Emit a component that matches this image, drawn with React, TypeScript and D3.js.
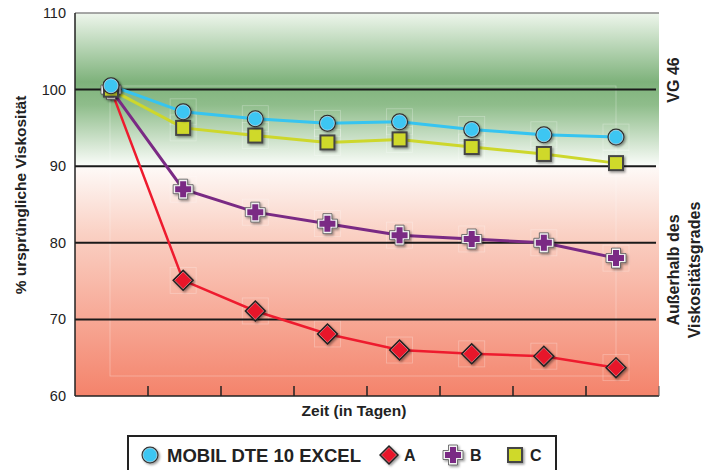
import React from "react";
import * as d3 from "d3";

const days = ["0", "1", "2", "3", "4", "5", "6", "7"];
const mobil = [100.5, 97.1, 96.2, 95.6, 95.8, 94.8, 94.1, 93.8];
const seriesA = [100, 75.1, 71.1, 68.1, 66.0, 65.5, 65.2, 63.7];
const seriesB = [100, 87.0, 84.0, 82.5, 81.0, 80.5, 80.0, 78.0];
const seriesC = [100, 95.0, 94.0, 93.1, 93.5, 92.5, 91.6, 90.4];
const yTicks = [60, 70, 80, 90, 100, 110];
const gridValues = [70, 80, 90, 100];

const W = 714, H = 470;
const L = 75, R = 659, T = 13, B = 396;
const FONT = "'Liberation Sans', Arial, Helvetica, sans-serif";

export default function App() {
  const y = d3.scaleLinear().domain([60, 110]).range([B, T]);
  const band = d3.scaleBand().domain(days).range([L, R]);
  const x = d3.scalePoint().domain(days).range([111, 616]);

  const line = (vals: number[]) =>
    d3.line<number>().x((_, i) => x(days[i])!).y((v) => y(v))(vals)!;

  const tickXs = days.slice(1).map((d) => band(d)!);

  const circle = (cx: number, cy: number, k: string) => (
    <g key={k} filter="url(#sh)">
      <circle cx={cx} cy={cy} r={8.5} fill="#2b2b2b" />
      <circle cx={cx} cy={cy} r={7} fill="#3cc6f2" stroke="#dff6ff" strokeWidth={0.6} />
    </g>
  );
  const diamond = (cx: number, cy: number, k: string, s = 11) => (
    <g key={k} filter="url(#sh)">
      <path d={`M${cx},${cy - s}L${cx + s},${cy}L${cx},${cy + s}L${cx - s},${cy}Z`} fill="#222" />
      <path d={`M${cx},${cy - s + 2.5}L${cx + s - 2.5},${cy}L${cx},${cy + s - 2.5}L${cx - s + 2.5},${cy}Z`} fill="#e8192c" stroke="#f3a0a6" strokeWidth={0.6} />
    </g>
  );
  const crossPath = (cx: number, cy: number, a: number, b: number) =>
    `M${cx - b},${cy - a}H${cx + b}V${cy - b}H${cx + a}V${cy + b}H${cx + b}V${cy + a}H${cx - b}V${cy + b}H${cx - a}V${cy - b}H${cx - b}Z`;
  const cross = (cx: number, cy: number, k: string) => (
    <g key={k} filter="url(#sh)">
      <path d={crossPath(cx, cy, 10, 4.5)} fill="#f2f2f2" stroke="#555" strokeWidth={0.8} />
      <path d={crossPath(cx, cy, 8, 3)} fill="#7a2a84" />
    </g>
  );
  const square = (cx: number, cy: number, k: string, s = 8) => (
    <g key={k} filter="url(#sh)">
      <rect x={cx - s} y={cy - s} width={2 * s} height={2 * s} fill="#444" />
      <rect x={cx - s + 2} y={cy - s + 2} width={2 * s - 4} height={2 * s - 4} fill="#cfd92c" />
    </g>
  );
  const box = (cx: number, cy: number, k: string) => (
    <rect key={k} x={cx - 13} y={cy - 13} width={26} height={26} fill="none" stroke="#fff" strokeOpacity={0.3} strokeWidth={0.8} />
  );

  const legendY = 455;
  const allSeries = [seriesA, seriesB, seriesC, mobil];

  return (
    <svg width={W} height={H} style={{ position: "absolute", left: 0, top: 0, fontFamily: FONT }}>
      <defs>
        <linearGradient id="gGreen" x1="0" y1={T} x2="0" y2={y(90)} gradientUnits="userSpaceOnUse">
          <stop offset="0" stopColor="#eef6ec" />
          <stop offset="0.45" stopColor="#7eb27b" />
          <stop offset="0.6" stopColor="#8fbd8b" />
          <stop offset="1" stopColor="#fbfdfa" />
        </linearGradient>
        <linearGradient id="gRed" x1="0" y1={y(90)} x2="0" y2={B} gradientUnits="userSpaceOnUse">
          <stop offset="0" stopColor="#fefaf8" />
          <stop offset="0.3" stopColor="#fad0c3" />
          <stop offset="1" stopColor="#f4836b" />
        </linearGradient>
        <filter id="sh" x="-50%" y="-50%" width="200%" height="200%">
          <feDropShadow dx="1.5" dy="1.5" stdDeviation="1.2" floodColor="#000" floodOpacity="0.4" />
        </filter>
      </defs>

      <rect x={L} y={T} width={R - L} height={y(90) - T} fill="url(#gGreen)" />
      <rect x={L} y={y(90)} width={R - L} height={B - y(90)} fill="url(#gRed)" />

      <rect x={110} y={86} width={506} height={290} fill="none" stroke="#fff" strokeOpacity={0.35} strokeWidth={0.8} />
      {allSeries.map((s, si) => s.slice(1).map((v, i) => box(x(days[i + 1])!, y(v), `bx${si}-${i}`)))}

      {gridValues.map((v) => (
        <line key={v} x1={L} x2={656} y1={y(v)} y2={y(v)} stroke="#1a1a1a" strokeWidth={2} />
      ))}
      <line x1={L} x2={R} y1={T} y2={T} stroke="#8a8a8a" strokeWidth={1.5} />
      <line x1={L} x2={L} y1={T} y2={B} stroke="#222" strokeWidth={1.5} />
      <line x1={L} x2={R} y1={B} y2={B} stroke="#222" strokeWidth={1.5} />
      <line x1={R} x2={R} y1={B - 10} y2={B} stroke="#555" strokeWidth={1} />
      {tickXs.map((tx) => (
        <line key={tx} x1={tx} x2={tx} y1={B - 10} y2={B} stroke="#222" strokeWidth={1.5} />
      ))}

      {yTicks.map((v) => (
        <text key={v} x={66} y={y(v) + 5} textAnchor="end" fontSize={14.5} fill="#222">{v}</text>
      ))}

      <text transform={`translate(26,${195}) rotate(-90)`} textAnchor="middle" fontSize={15.5} fontWeight="bold" fill="#222">
        % ursprüngliche Viskosität
      </text>
      <text x={354} y={416} textAnchor="middle" fontSize={15.5} fontWeight="bold" fill="#222">Zeit (in Tagen)</text>

      <text transform={`translate(679,80) rotate(-90)`} textAnchor="middle" fontSize={16} fontWeight="bold" fill="#222">VG 46</text>
      <text transform={`translate(679,270) rotate(-90)`} textAnchor="middle" fontSize={16} fontWeight="bold" fill="#222">Außerhalb des</text>
      <text transform={`translate(700,270) rotate(-90)`} textAnchor="middle" fontSize={16} fontWeight="bold" fill="#222">Viskositätsgrades</text>

      <path d={line(seriesA)} fill="none" stroke="#ee1b2e" strokeWidth={2.5} />
      <path d={line(seriesB)} fill="none" stroke="#7a2a84" strokeWidth={3} />
      <path d={line(seriesC)} fill="none" stroke="#cdd72c" strokeWidth={3} />
      <path d={line(mobil)} fill="none" stroke="#36c4f0" strokeWidth={3} />

      {seriesA.map((v, i) => diamond(x(days[i])!, y(v), "a" + i))}
      {seriesB.map((v, i) => cross(x(days[i])!, y(v), "b" + i))}
      {seriesC.map((v, i) => square(x(days[i])!, y(v), "c" + i))}
      {mobil.map((v, i) => circle(x(days[i])!, y(v), "m" + i))}

      <rect x={128} y={436} width={428} height={40} fill="#fff" stroke="#222" strokeWidth={2} />
      {circle(150, legendY, "lm")}
      <text x={167} y={legendY + 6.5} fontSize={18.5} fontWeight="bold" fill="#222">MOBIL DTE 10 EXCEL</text>
      {diamond(389, legendY, "la", 10)}
      <text x={404} y={legendY + 6} fontSize={16} fontWeight="bold" fill="#222">A</text>
      {cross(453, legendY, "lb")}
      <text x={470} y={legendY + 6} fontSize={16} fontWeight="bold" fill="#222">B</text>
      {square(515, legendY, "lc", 8)}
      <text x={530} y={legendY + 6} fontSize={16} fontWeight="bold" fill="#222">C</text>
    </svg>
  );
}
